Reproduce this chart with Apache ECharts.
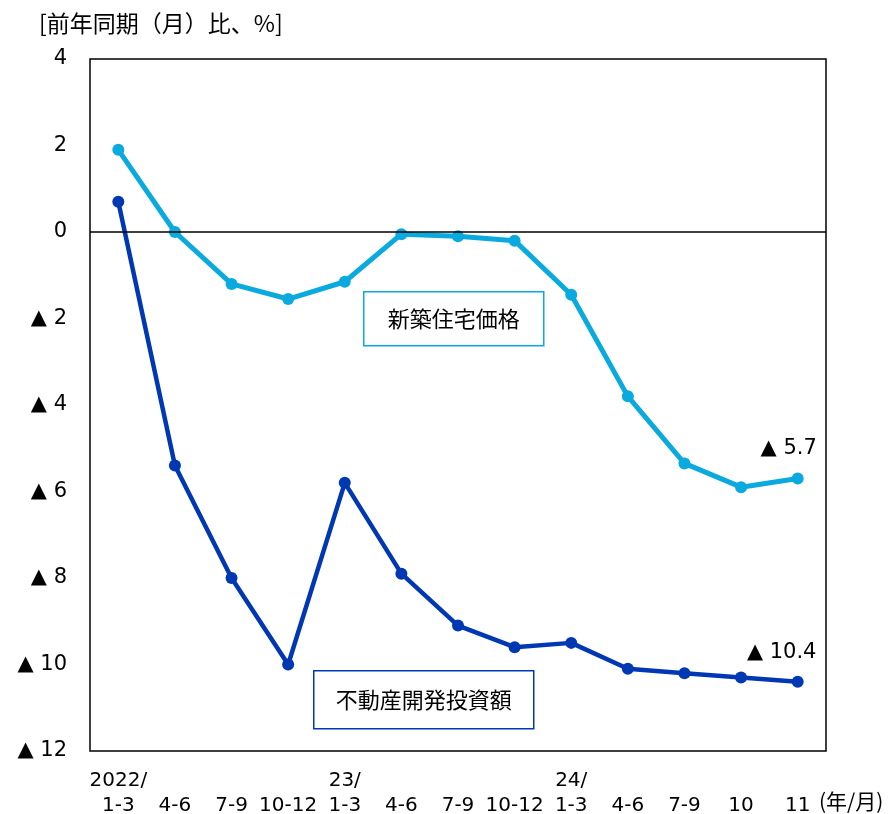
<!DOCTYPE html>
<html>
<head>
<meta charset="utf-8">
<script src="https://cdn.jsdelivr.net/npm/echarts@6/dist/echarts.min.js"></script>
<style>
  html, body { margin: 0; padding: 0; background: #fff; }
  #chart { width: 890px; height: 814px; }
</style>
</head>
<body>
<div id="chart"></div>
<script>
// Quarter / month labels (year prefix on the first period of each year)
const years = ['2022/', '', '', '', '23/', '', '', '', '24/', '', '', '', ''];
const periods = ['1-3', '4-6', '7-9', '10-12', '1-3', '4-6', '7-9', '10-12', '1-3', '4-6', '7-9', '10', '11'];

// Year-on-year change, %
const newHomePrices = [1.9, 0.0, -1.2, -1.55, -1.15, -0.05, -0.1, -0.2, -1.45, -3.8, -5.35, -5.9, -5.7];
const realEstateInvestment = [0.7, -5.4, -8.0, -10.0, -5.8, -7.9, -9.1, -9.6, -9.5, -10.1, -10.2, -10.3, -10.4];

const yTicks = { min: -12, max: 4, interval: 2 };

const FONT = '"DejaVu Sans", "Noto Sans CJK JP", sans-serif';
const JP_FONT = '"Noto Sans CJK JP", sans-serif';
const LIGHT = '#0AAADF';
const DARK = '#0038B4';

const categories = periods.map((p, i) => years[i] + '\n' + p);

// negative values are written with a leading triangle
const fmtNeg = v => (v < 0 ? '▲ ' + Math.abs(v) : String(v));

function lastLabel(values, offset) {
  return values.map((v, i) => {
    if (i !== values.length - 1) return v;
    return {
      value: v,
      label: {
        show: true, position: 'top', distance: 13, offset: offset,
        formatter: p => fmtNeg(p.value),
        color: '#000', fontSize: 21, fontFamily: FONT
      }
    };
  });
}

const chart = echarts.init(document.getElementById('chart'), null, { renderer: 'canvas' });

chart.setOption({
  animation: false,
  backgroundColor: '#fff',
  textStyle: { fontFamily: FONT },
  grid: {
    left: 90, right: 64, top: 59, bottom: 63,
    outerBoundsMode: 'none',
    containLabel: false,
    show: true, borderColor: '#000', borderWidth: 1.5, backgroundColor: 'transparent'
  },
  xAxis: {
    type: 'category',
    data: categories,
    boundaryGap: true,
    axisLine: { show: false },
    axisTick: { show: false },
    axisLabel: {
      interval: 0, color: '#000', fontSize: 20, fontFamily: FONT,
      lineHeight: 25, margin: 17
    }
  },
  yAxis: {
    type: 'value',
    min: yTicks.min, max: yTicks.max, interval: yTicks.interval,
    axisLine: { show: false },
    axisTick: { show: false },
    splitLine: { show: false },
    axisLabel: {
      color: '#000', fontSize: 21, fontFamily: FONT, margin: 23,
      formatter: fmtNeg
    }
  },
  series: [
    {
      name: '新築住宅価格',
      type: 'line',
      data: lastLabel(newHomePrices, [-9, 0]),
      color: LIGHT,
      lineStyle: { width: 5, color: LIGHT },
      itemStyle: { color: LIGHT },
      symbol: 'circle', symbolSize: 12,
      z: 3,
      markLine: {
        silent: true, symbol: 'none', label: { show: false },
        lineStyle: { color: '#000', width: 1.5, type: 'solid' },
        data: [{ yAxis: 0 }]
      }
    },
    {
      name: '不動産開発投資額',
      type: 'line',
      data: lastLabel(realEstateInvestment, [-16, 0]),
      color: DARK,
      lineStyle: { width: 4.5, color: DARK },
      itemStyle: { color: DARK },
      symbol: 'circle', symbolSize: 12,
      z: 4
    }
  ],
  graphic: [
    {
      type: 'text', left: 39, top: 12,
      style: { text: '[前年同期（月）比、%]', fill: '#000', font: '23px ' + JP_FONT }
    },
    {
      type: 'text', left: 819, top: 791,
      style: { text: '(年/月)', fill: '#000', font: '21px ' + JP_FONT }
    },
    {
      type: 'group', left: 363, top: 291,
      children: [
        { type: 'rect', shape: { x: 0, y: 0, width: 180, height: 54 },
          style: { fill: '#fff', stroke: LIGHT, lineWidth: 1.5 } },
        { type: 'text', x: 90, y: 27,
          style: { text: '新築住宅価格', fill: '#000', font: '22px ' + JP_FONT,
                   textAlign: 'center', textVerticalAlign: 'middle' } }
      ]
    },
    {
      type: 'group', left: 313, top: 670,
      children: [
        { type: 'rect', shape: { x: 0, y: 0, width: 220, height: 58 },
          style: { fill: '#fff', stroke: DARK, lineWidth: 1.5 } },
        { type: 'text', x: 110, y: 29,
          style: { text: '不動産開発投資額', fill: '#000', font: '22px ' + JP_FONT,
                   textAlign: 'center', textVerticalAlign: 'middle' } }
      ]
    }
  ]
});
</script>
</body>
</html>
